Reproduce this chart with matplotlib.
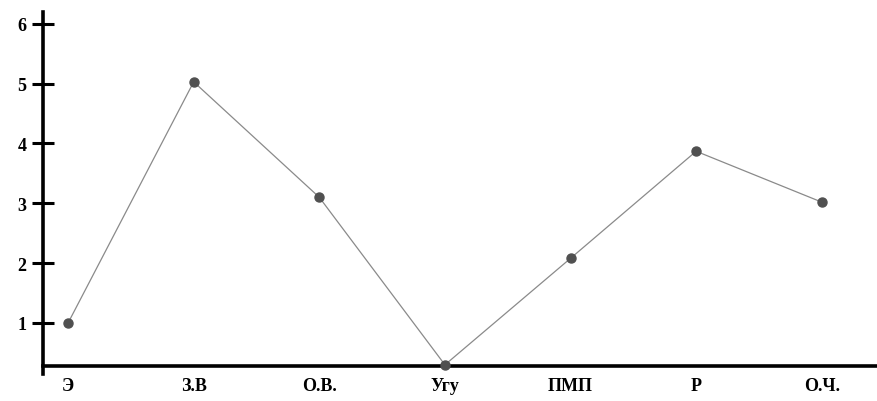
import matplotlib.pyplot as plt

# categories and values
categories = ['Э', 'З.В', 'О.В.', 'Угу', 'ПМП', 'Р', 'О.Ч.']
values = [1.0, 5.03, 3.1, 0.3, 2.08, 3.87, 3.02]
y_ticks = [1, 2, 3, 4, 5, 6]

plt.rcParams['font.family'] = ['Liberation Serif', 'DejaVu Serif']

fig = plt.figure(figsize=(8.77, 4.02), dpi=100)
ax = fig.add_axes([0.049, 0.087, 0.951, 0.881])

x = list(range(len(categories)))
ax.plot(x, values, color='#8a8a8a', linewidth=0.9, zorder=2)
ax.plot(x, values, linestyle='none', marker='o', markersize=6.5,
        color='#505050', zorder=3, clip_on=False)

ax.set_xlim(-0.2, 6.44)
ax.set_ylim(0.28, 6.2)

ax.set_yticks(y_ticks)
ax.set_yticklabels([str(t) for t in y_ticks], fontsize=13, fontweight='bold')
ax.set_xticks(x)
ax.set_xticklabels(categories, fontsize=13, fontweight='bold')

ax.tick_params(axis='y', direction='inout', length=16, width=2.2, pad=4)
ax.tick_params(axis='x', length=0, pad=8)

for side in ['top', 'right']:
    ax.spines[side].set_visible(False)
for side in ['left', 'bottom']:
    ax.spines[side].set_linewidth(2.6)
# the vertical axis pokes a little below the horizontal one
ax.spines['left'].set_bounds(0.15, 6.2)

fig.savefig('out.png', dpi=100)
